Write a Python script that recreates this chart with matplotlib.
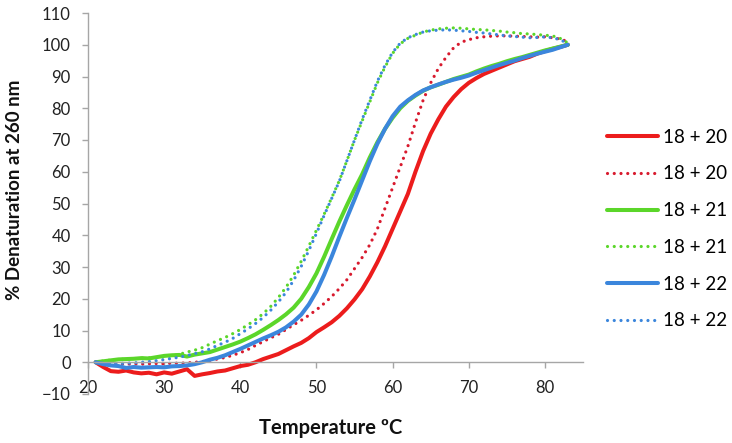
import matplotlib
matplotlib.use('Agg')
import matplotlib.pyplot as plt

plt.rcParams['font.family'] = ['Lato', 'DejaVu Sans']

# temperature (ºC), one reading per degree
temp = list(range(21, 84))

# 18 + 20, solid
r20_solid = [0, -1.5, -2.8, -3.0, -2.6, -3.2, -3.5, -3.3, -3.8, -3.2,
             -3.6, -2.9, -2.2, -4.3, -3.8, -3.4, -2.9, -2.6, -1.9, -1.2,
             -0.8, 0.0, 1.0, 1.8, 2.6, 3.8, 5.0, 6.1, 7.6, 9.5,
             11.0, 12.6, 14.6, 17.0, 19.8, 23.0, 27.0, 31.5, 36.5, 42.0,
             47.5, 53.0, 60.0, 66.5, 72.0, 76.5, 80.5, 83.5, 86.0, 88.0,
             89.5, 90.8, 91.8, 92.8, 93.8, 94.8, 95.5, 96.2, 97.2, 98.0,
             98.7, 99.3, 100.0]
# 18 + 20, dotted
r20_dot = [0, -0.3, -0.5, -0.6, -0.6, -0.5, -0.6, -0.5, -0.4, -0.5,
           -0.3, -0.3, -0.2, 0.0, 0.2, 0.6, 1.0, 1.5, 2.2, 3.0,
           4.0, 5.3, 6.5, 7.7, 8.8, 10.3, 11.8, 13.2, 14.8, 16.5,
           18.5, 20.7, 23.2, 26.0, 29.5, 33.0, 37.0, 42.0, 48.5, 55.0,
           61.5, 68.0, 75.5, 82.5, 88.0, 92.5, 96.0, 99.0, 100.8, 101.6,
           102.2, 102.5, 102.7, 102.8, 102.8, 102.7, 102.6, 102.5, 102.4, 102.5,
           102.2, 101.8, 101.0]
# 18 + 21, solid
g21_solid = [0, 0.3, 0.6, 0.9, 1.0, 1.1, 1.3, 1.2, 1.6, 2.0,
             2.2, 2.3, 1.8, 2.4, 2.8, 3.2, 4.0, 4.8, 5.6, 6.5,
             7.6, 8.8, 10.2, 11.7, 13.3, 15.1, 17.2, 20.0, 23.7, 28.0,
             33.2, 38.8, 44.3, 49.5, 54.5, 59.2, 64.5, 69.3, 73.5, 77.0,
             80.0, 82.3, 84.0, 85.5, 86.6, 87.4, 88.3, 89.2, 89.9, 90.6,
             91.6, 92.5, 93.3, 94.0, 94.8, 95.5, 96.1, 96.8, 97.5, 98.2,
             98.8, 99.4, 100.0]
# 18 + 21, dotted
g21_dot = [0, 0.4, 0.7, 0.9, 1.0, 1.1, 1.3, 1.4, 1.5, 1.7,
           2.0, 2.5, 3.2, 3.8, 4.6, 5.7, 6.8, 7.8, 9.0, 10.3,
           11.8, 13.4, 15.3, 17.6, 20.4, 23.6, 27.4, 31.8, 36.6, 41.6,
           46.6, 51.8, 57.2, 63.5, 70.0, 76.0, 82.0, 88.0, 93.0, 97.3,
           100.3, 102.0, 103.0, 104.0, 104.6, 105.0, 105.2, 105.3, 105.2, 105.0,
           104.8, 104.7, 104.5, 104.3, 104.0, 103.8, 103.5, 103.4, 103.2, 103.0,
           102.8, 102.0, 100.6]
# 18 + 22, solid
b22_solid = [0, -0.6, -1.0, -1.2, -1.8, -1.5, -1.7, -1.6, -1.5, -1.6,
             -1.3, -1.2, -1.0, -0.6, 0.0, 0.8, 1.4, 2.2, 3.2, 4.2,
             5.3, 6.4, 7.5, 8.5, 9.6, 11.0, 12.8, 15.0, 18.2, 22.3,
             27.5, 33.3, 39.5, 45.5, 51.3, 57.3, 63.3, 68.8, 73.5, 77.5,
             80.5, 82.5, 84.2, 85.6, 86.6, 87.5, 88.3, 89.0, 89.6, 90.3,
             91.2, 92.0, 92.8, 93.6, 94.3, 95.0, 95.8, 96.5, 97.2, 97.8,
             98.4, 99.2, 100.0]
# 18 + 22, dotted
b22_dot = [0, -0.3, -0.4, -0.4, -0.3, -0.2, 0.0, 0.2, 0.5, 0.8,
           1.2, 1.6, 2.1, 2.7, 3.3, 4.2, 5.3, 6.3, 7.5, 9.0,
           10.5, 12.2, 14.1, 16.4, 19.0, 22.0, 25.8, 30.2, 35.2, 40.6,
           46.2, 51.6, 57.0, 63.5, 70.0, 76.5, 82.5, 88.5, 93.5, 97.6,
           100.5, 102.2, 103.2, 104.0, 104.4, 104.6, 104.7, 104.6, 104.4, 104.2,
           103.9, 103.7, 103.4, 103.1, 102.8, 102.6, 102.4, 102.2, 102.3, 102.5,
           102.2, 101.6, 100.4]

labels = ['18 + 20', '18 + 20', '18 + 21', '18 + 21', '18 + 22', '18 + 22']
series = [r20_solid, r20_dot, g21_solid, g21_dot, b22_solid, b22_dot]
colors = ['#ec1c1c', '#d81a2e', '#5bd62a', '#5bd62a', '#3b86dc', '#3b86dc']
dotted = [False, True, False, True, False, True]

fig = plt.figure(figsize=(7.32, 4.43), dpi=100)
ax = fig.add_axes([88 / 732, 1 - 394 / 443, 495 / 732, 381 / 443])

for vals, lab, col, dot in zip(series, labels, colors, dotted):
    if dot:
        ax.plot(temp, vals, color=col, lw=2.3, linestyle=(0, (0.01, 2.1)),
                dash_capstyle='round', label=lab)
    else:
        ax.plot(temp, vals, color=col, lw=2.9, solid_capstyle='round', label=lab)

ax.set_xlim(20, 85)
ax.set_ylim(-10, 110)
ax.set_xticks(range(20, 90, 10))
ax.set_yticks(range(-10, 120, 10))

# Excel style axes: x axis crosses at y = 0
ax.spines['top'].set_visible(False)
ax.spines['right'].set_visible(False)
ax.spines['bottom'].set_position(('data', 0))
for s in ['left', 'bottom']:
    ax.spines[s].set_color('#a6a6a6')
    ax.spines[s].set_linewidth(1)
ax.tick_params(axis='both', direction='out', length=4.5, width=1,
               color='#a6a6a6', labelsize=12, labelcolor='#222222')
ax.tick_params(axis='x', pad=8)
ax.tick_params(axis='y', pad=8)

fig.text(15 / 732, 1 - 190 / 443, '% Denaturation at 260 nm', rotation=90,
         ha='center', va='center', fontsize=13.5, fontweight='bold', color='#111111')
fig.text(331 / 732, 1 - 428 / 443, 'Temperature ºC', ha='center', va='center',
         fontsize=14.5, fontweight='bold', color='#111111')

fig.legend(loc='center left', bbox_to_anchor=(607 / 732, 1 - 229 / 443),
           frameon=False, fontsize=13.5, handlelength=2.7, handletextpad=0.3,
           labelspacing=1.05, borderpad=0, borderaxespad=0)

fig.savefig('out.png', dpi=100)
